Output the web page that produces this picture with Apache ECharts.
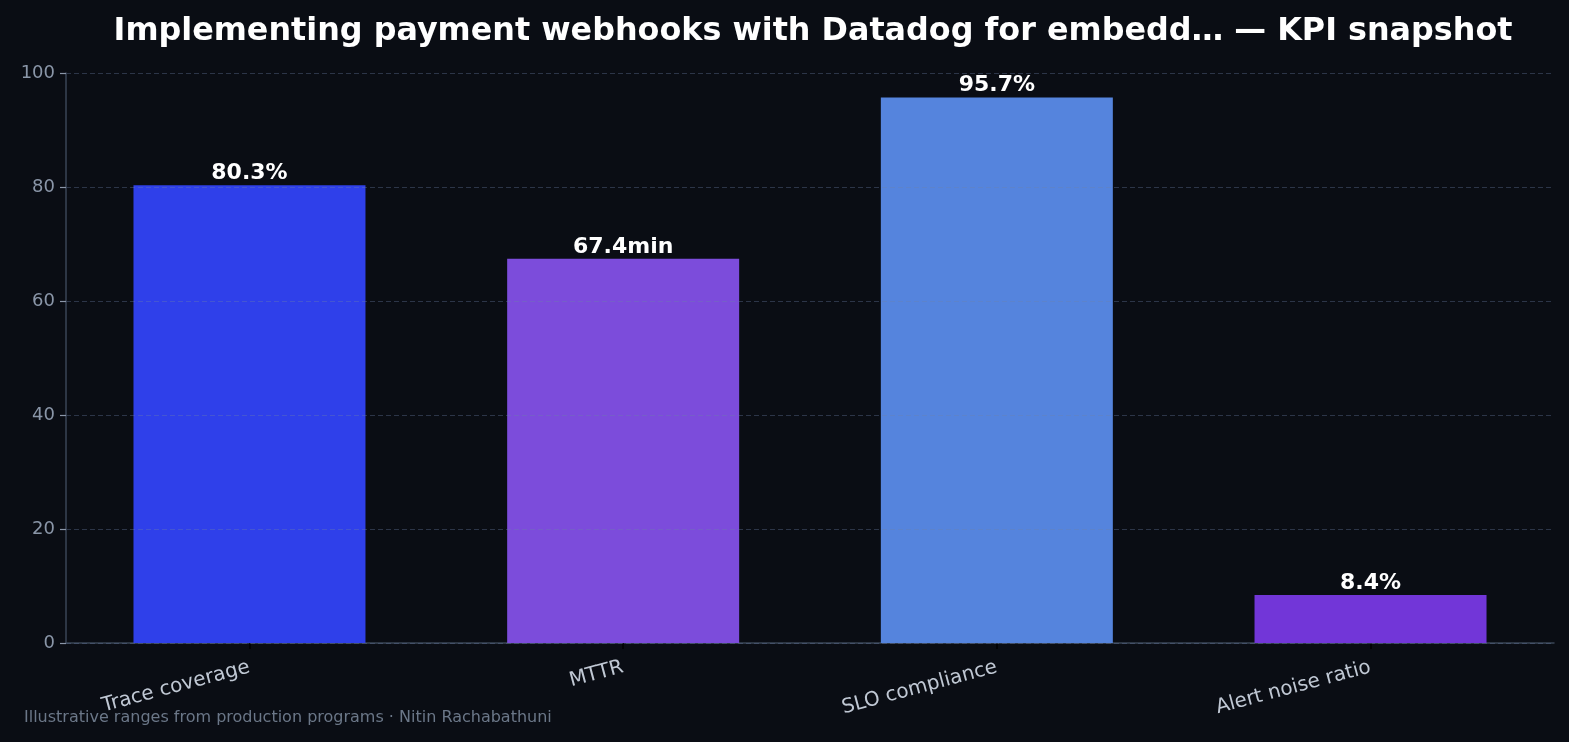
<!DOCTYPE html>
<html><head><meta charset="utf-8">
<script src="https://cdn.jsdelivr.net/npm/echarts@6/dist/echarts.min.js"></script>
<style>html,body{margin:0;padding:0;background:#0a0d14;}#c{width:1569px;height:742px;}</style>
</head><body><div id="c"></div>
<script>
const categories = ["Trace coverage", "MTTR", "SLO compliance", "Alert noise ratio"];
const values = [80.3, 67.4, 95.7, 8.4];
const valueLabels = ["80.3%", "67.4min", "95.7%", "8.4%"];
const barColors = ["#2f40ea", "#7c4cdb", "#5584dd", "#7236d8"];
const yTicks = [0, 20, 40, 60, 80, 100];

const positions = categories.map((c, i) => i);
const chart = echarts.init(document.getElementById('c'), null, {renderer: 'canvas'});
const font = '"DejaVu Sans", sans-serif';
chart.setOption({
  backgroundColor: '#0a0d14',
  animation: false,
  title: {
    text: 'Implementing payment webhooks with Datadog for embedd\u2026 \u2014 KPI snapshot',
    left: 808, top: 8, textAlign: 'center',
    textStyle: {color: '#ffffff', fontFamily: font, fontWeight: 'bold', fontSize: 31.8, lineHeight: 38}
  },
  graphic: [{
    type: 'text', left: 24, top: 710,
    style: {text: 'Illustrative ranges from production programs \u00b7 Nitin Rachabathuni', fill: '#6b7788', font: '16px ' + font}
  }],
  grid: {left: 66, right: 15, top: 73, bottom: 99, containLabel: false},
  xAxis: {
    type: 'value', min: -0.491, max: 3.491,
    splitLine: {show: false},
    axisLine: {show: true, onZero: false, lineStyle: {color: '#3a4556', width: 1.5}},
    axisTick: {show: true, customValues: positions, length: 6, lineStyle: {color: '#000000', width: 1.5}},
    axisLabel: {customValues: positions, rotate: 15, color: '#c0c8d4', fontSize: 20, fontFamily: font, margin: 24,
      formatter: v => categories[Math.round(v)]}
  },
  yAxis: {
    type: 'value', min: 0, max: 100, interval: 20, z: 5,
    axisLine: {show: true, onZero: false, lineStyle: {color: '#3a4556', width: 1.5}},
    axisTick: {show: true, length: 6, lineStyle: {color: '#8a96a8', width: 1.2}},
    axisLabel: {color: '#8a96a8', fontSize: 18, fontFamily: font, margin: 11,
      formatter: v => yTicks.includes(v) ? String(v) : ''},
    splitLine: {show: true, lineStyle: {color: 'rgba(110,130,170,0.35)', type: [5, 3], width: 1.2}}
  },
  series: [{
    type: 'bar', z: 2,
    data: values.map((v, i) => ({value: [positions[i], v], itemStyle: {color: barColors[i]}})),
    barWidth: 232,
    label: {show: true, position: 'top', distance: 1, color: '#ffffff', fontWeight: 'bold', fontSize: 22, lineHeight: 22, fontFamily: font,
      formatter: p => valueLabels[p.dataIndex]}
  }]
});
</script></body></html>
